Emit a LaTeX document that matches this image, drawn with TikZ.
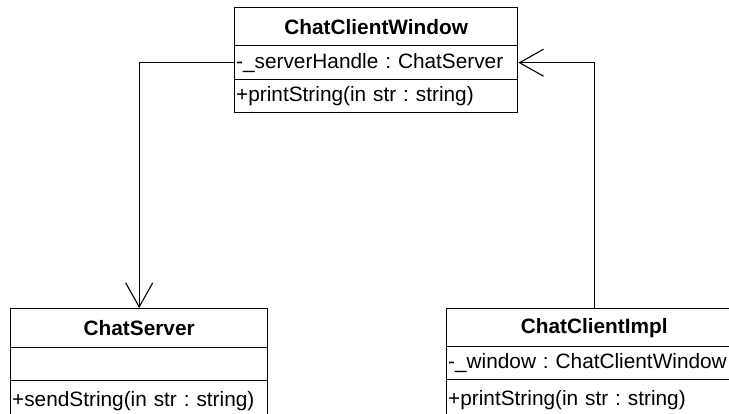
\documentclass[tikz,border=0pt]{standalone}
\usepackage{fontspec}
\setmainfont{Liberation Sans}
\usetikzlibrary{arrows.meta}
\frenchspacing
\begin{document}
\begin{tikzpicture}[x=1pt,y=-1pt,
  comp/.style={draw, line width=1.4pt, anchor=north west, inner xsep=1.5pt, inner ysep=0pt,
    align=left, font=\fontsize{20.8}{24}\selectfont\frenchspacing},
  headc/.style={comp, align=center, font=\fontsize{20.8}{24}\selectfont\bfseries},
  conn/.style={line width=1.1pt, -{Straight Barb[length=24pt,width=27pt]}}]
\useasboundingbox (0,0) rectangle (729,413);
\clip (0,0) rectangle (729,413);
% ChatClientWindow
\node[headc, text width=280pt, minimum height=38pt] (w-head) at (234,7) {ChatClientWindow};
\node[comp, text width=280pt, minimum height=34pt] (w-attr) at (234,45) {-\_serverHandle : ChatServer};
\node[comp, text width=280pt, minimum height=33pt] (w-meth) at (234,79) {+printString(in str : string)};
% ChatServer
\node[headc, text width=254pt, minimum height=39pt] (s-head) at (10,308) {ChatServer};
\node[comp, text width=254pt, minimum height=33pt] (s-attr) at (10,347) {};
\node[comp, text width=254pt, minimum height=40pt] (s-meth) at (10,380) {+sendString(in str : string)};
% ChatClientImpl
\node[headc, text width=292pt, minimum height=38pt] (i-head) at (446,308) {ChatClientImpl};
\node[comp, text width=292pt, minimum height=33pt] (i-attr) at (446,346) {-\_window : ChatClientWindow};
\node[comp, text width=292pt, minimum height=40pt] (i-meth) at (446,379) {+printString(in str : string)};
% connectors
\draw[conn] (w-attr.west) -| (s-head.north);
\draw[conn] (i-head.north) |- (w-attr.east);
\end{tikzpicture}
\end{document}
